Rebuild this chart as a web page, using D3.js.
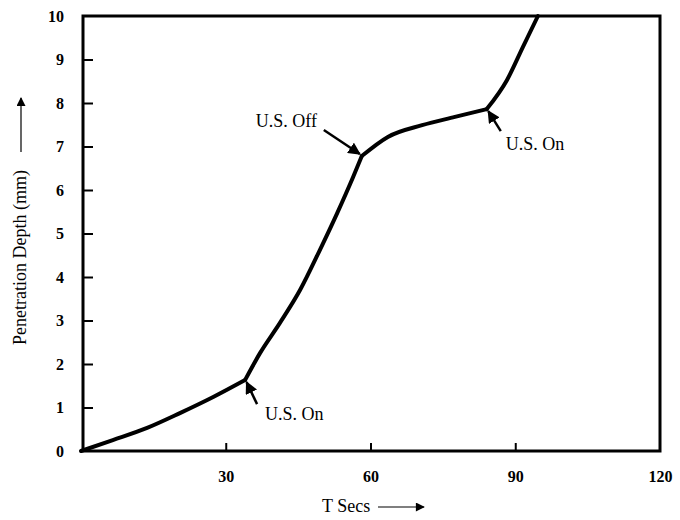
<!DOCTYPE html>
<html>
<head>
<meta charset="utf-8">
<script src="https://cdn.jsdelivr.net/npm/d3@7"></script>
<style>
  body { margin: 0; background: #fff; }
  svg text { font-family: "Liberation Serif", "Times New Roman", serif; fill: #000; }
</style>
</head>
<body>
<svg id="chart" width="680" height="520"></svg>
<script>
// data: time (s) vs penetration depth (mm)
const timeSecs = [0, 6.6, 13.7, 20.5, 27.4, 34.0, 37.1, 41.2, 45.4, 49.5, 53.1, 56.4, 58.2, 63.6, 70.7, 77.5, 84.1, 88.3, 91.6, 94.7];
const depthMm  = [0, 0.25, 0.53, 0.87, 1.24, 1.63, 2.25, 2.94, 3.70, 4.62, 5.47, 6.30, 6.78, 7.22, 7.49, 7.68, 7.86, 8.53, 9.29, 10.0];

const xTicks = [30, 60, 90, 120];
const yTicks = [0, 1, 2, 3, 4, 5, 6, 7, 8, 9, 10];

// annotations point at the ultrasound switch points
const noteLabels = ["U.S. On", "U.S. Off", "U.S. On"];
const noteTimes  = [34.0, 58.2, 84.1];
const noteDepths = [1.63, 6.78, 7.86];

const mLeft = 83, mRight = 660, mTop = 16, mBottom = 451;

const svg = d3.select('#chart');

// scales
const x = d3.scaleLinear().domain([0, 120]).range([mLeft - 2, mRight]);
const y = d3.scaleLinear().domain([0, 10]).range([mBottom, mTop]);

// axes, ticks pointing inward
const xAxis = d3.axisBottom(x).tickValues(xTicks).tickSize(-8).tickPadding(20).tickFormat(d3.format('d'));
const yAxis = d3.axisLeft(y).tickValues(yTicks).tickSize(-10).tickPadding(19).tickFormat(d3.format('d'));

const gx = svg.append('g').attr('transform', `translate(0,${mBottom})`).call(xAxis);
const gy = svg.append('g').attr('transform', `translate(${mLeft},0)`).call(yAxis);

[gx, gy].forEach(g => {
  g.select('.domain').remove();
  g.selectAll('line').attr('stroke', '#000').attr('stroke-width', 2);
  g.selectAll('text').style('font-size', '16px').style('font-weight', 'bold').attr('font-family', null);
});
gx.selectAll('.tick').filter(d => d === 120).select('line').remove();
gy.selectAll('.tick').filter(d => d === 0 || d === 10).select('line').remove();

// frame
svg.append('rect')
  .attr('x', mLeft).attr('y', mTop)
  .attr('width', mRight - mLeft).attr('height', mBottom - mTop)
  .attr('fill', 'none').attr('stroke', '#000').attr('stroke-width', 3);

// curve, smoothed within each stage but with sharp corners at the switch points
const pts = timeSecs.map((t, i) => [t, depthMm[i]]);
const breaks = [0, ...noteTimes, Infinity];
const segments = breaks.slice(0, -1).map((b, i) => pts.filter(p => p[0] >= b && p[0] <= breaks[i + 1]));
const line = d3.line().x(d => x(d[0])).y(d => y(d[1])).curve(d3.curveMonotoneX);

svg.selectAll('path.curve')
  .data(segments)
  .join('path')
  .attr('class', 'curve')
  .attr('d', line)
  .attr('fill', 'none')
  .attr('stroke', '#000')
  .attr('stroke-width', 4)
  .attr('stroke-linejoin', 'round')
  .attr('stroke-linecap', 'round');

// arrow markers
const defs = svg.append('defs');
defs.append('marker')
  .attr('id', 'head')
  .attr('viewBox', '0 0 10 10')
  .attr('refX', 9).attr('refY', 5)
  .attr('markerWidth', 5).attr('markerHeight', 5)
  .attr('markerUnits', 'strokeWidth')
  .attr('orient', 'auto')
  .append('path').attr('d', 'M0,0 L10,5 L0,10 z').attr('fill', '#000');
defs.append('marker')
  .attr('id', 'axhead')
  .attr('viewBox', '0 0 10 10')
  .attr('refX', 9).attr('refY', 5)
  .attr('markerWidth', 11).attr('markerHeight', 9)
  .attr('markerUnits', 'userSpaceOnUse')
  .attr('orient', 'auto')
  .append('path').attr('d', 'M0,0 L10,5 L0,10 z').attr('fill', '#000');

// annotations: [tail dx, tail dy, text x, text y] relative to the pointed point
const noteOffsets = [[12, 24, 20, 40], [-38, -26, -106, -29], [14, 22, 19, 41]];
noteLabels.forEach((lab, i) => {
  const px = x(noteTimes[i]), py = y(noteDepths[i]);
  const o = noteOffsets[i];
  const tipx = px + (o[0] > 0 ? 1.5 : -2), tipy = py + (o[1] > 0 ? 2 : -2);
  svg.append('line')
    .attr('x1', px + o[0]).attr('y1', py + o[1])
    .attr('x2', tipx).attr('y2', tipy)
    .attr('stroke', '#000').attr('stroke-width', 2.5)
    .attr('marker-end', 'url(#head)');
  svg.append('text')
    .attr('x', px + o[2]).attr('y', py + o[3])
    .style('font-size', '18px')
    .text(lab);
});

// axis titles with arrows
svg.append('text')
  .attr('x', 322).attr('y', 512)
  .style('font-size', '18px')
  .text('T Secs');
svg.append('line')
  .attr('x1', 378).attr('y1', 507).attr('x2', 424).attr('y2', 507)
  .attr('stroke', '#000').attr('stroke-width', 1.2)
  .attr('marker-end', 'url(#axhead)');

svg.append('text')
  .attr('transform', 'translate(26,345) rotate(-90)')
  .style('font-size', '18px')
  .text('Penetration Depth (mm)');
svg.append('line')
  .attr('x1', 21).attr('y1', 152).attr('x2', 21).attr('y2', 98)
  .attr('stroke', '#000').attr('stroke-width', 1.2)
  .attr('marker-end', 'url(#axhead)');
</script>
</body>
</html>
